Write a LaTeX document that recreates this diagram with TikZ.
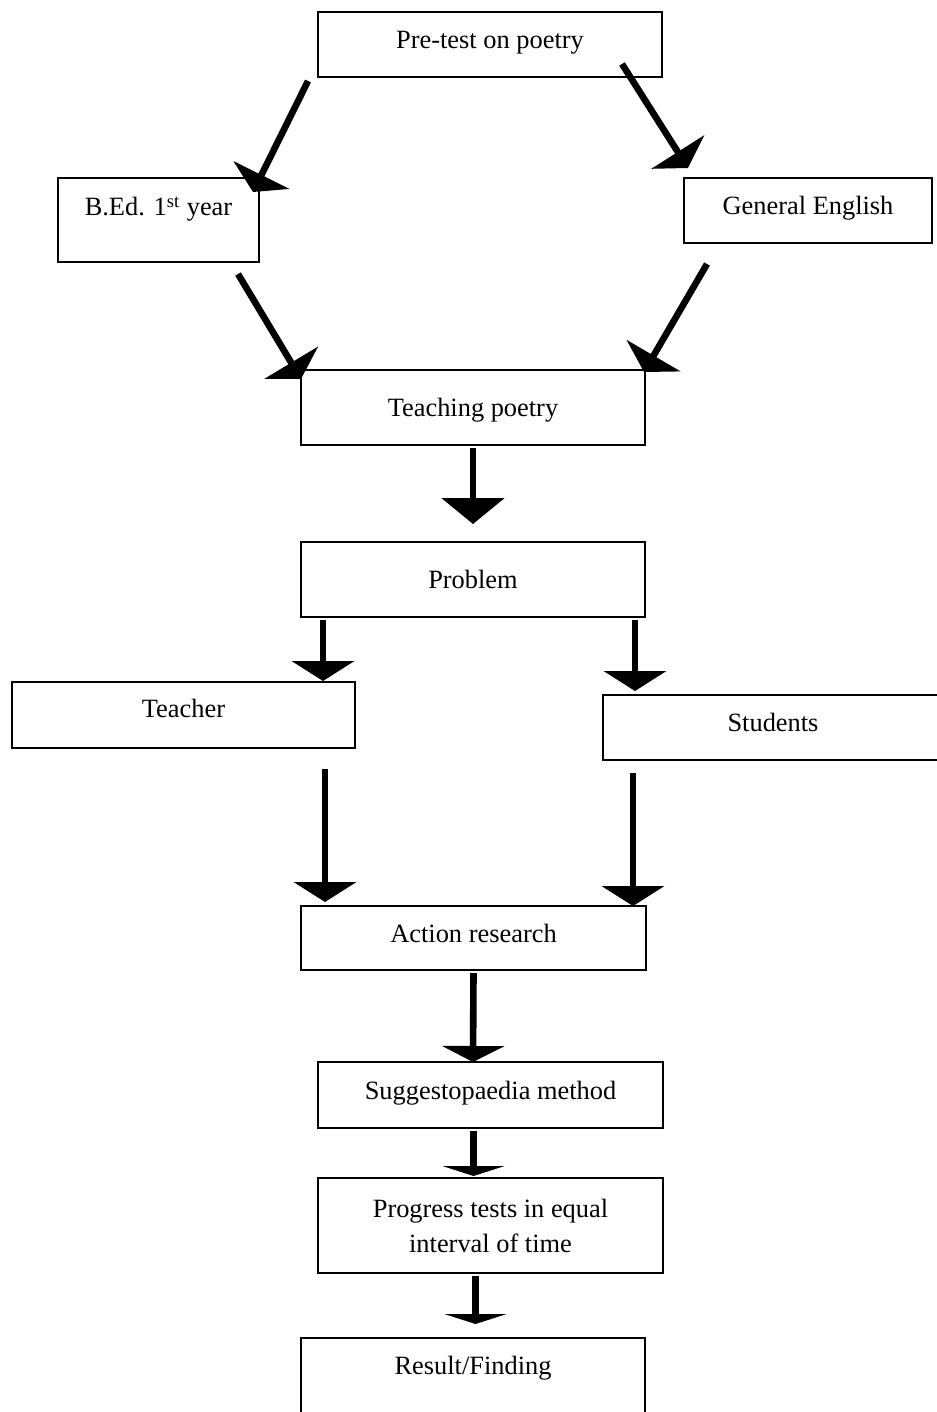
\documentclass[tikz,border=0pt]{standalone}
\usepackage{fontspec}
\setmainfont{Liberation Serif}
\usetikzlibrary{arrows.meta}

\begin{document}
\begin{tikzpicture}[
                    % GLOBAL CFG
                    x=0.5pt, y=-0.5pt,
                    font=\fontsize{13.2}{17.5}\selectfont,
                    % Styles
                    stage/.style={% For the boxes
                            rectangle,
                            draw,
                            line width=1pt,
                            inner sep=2pt,
                            align=center,
                        },
                    txtup/.style={% Push the text up in its box
                            text height=9pt,
                            text depth=#1,
                        },
                    fatarrow/.style={% Heavy arrows
                            line width=3.3pt,
                            -{Triangle[width=31pt, length=#1]},
                        },
                    fatarrow/.default=10pt,
                ]

                \useasboundingbox (0,0) rectangle (936,1412);

                % Draw the boxes
                \node [stage, txtup=5pt, minimum width=172pt, minimum height=32.5pt] (pretest) at (490,44.5) {Pre-test on poetry};
                \node [stage, txtup=13pt, minimum width=100.5pt, minimum height=42pt] (bed) at (158.5,220) {B.Ed. 1\textsuperscript{st} year};
                \node [stage, txtup=5.5pt, minimum width=124pt, minimum height=32.5pt] (geneng) at (808,210.5) {General English};
                \node [stage, txtup=0pt, minimum width=172pt, minimum height=37.5pt] (teaching) at (473,407.5) {Teaching poetry};
                \node [stage, txtup=0pt, minimum width=172pt, minimum height=37.5pt] (problem) at (473,579.5) {Problem};
                \node [stage, txtup=7pt, minimum width=171.5pt, minimum height=33pt] (teacher) at (183.5,715) {Teacher};
                \node [stage, txtup=5.5pt, minimum width=170pt, minimum height=32.5pt] (students) at (773,727.5) {Students};
                \node [stage, txtup=5pt, minimum width=172.5pt, minimum height=32pt] (action) at (473.5,938) {Action research};
                \node [stage, txtup=5pt, minimum width=172.5pt, minimum height=33pt] (suggest) at (490.5,1095) {Suggestopaedia method};
                \node [stage, minimum width=172.5pt, minimum height=47.5pt] (progress) at (490.5,1225.5) {Progress tests in equal\\interval of time};
                \node [stage, txtup=14pt, minimum width=172pt, minimum height=41pt] (result) at (473,1379) {Result/Finding};

                % Drawing arrows
                \draw [fatarrow=9.5pt] ([shift={(-9,3)}]pretest.south west) -- ([shift={(-7,15)}]bed.north east);
                \draw [fatarrow=9.5pt] ([shift={(-41,-14)}]pretest.south east) -- ([shift={(5,-9)}]geneng.north west);
                \draw [fatarrow=9.5pt] ([shift={(-22,11)}]bed.south east) -- ([shift={(1,10)}]teaching.north west);
                \draw [fatarrow=9.5pt] ([shift={(24,20)}]geneng.south west) -- ([shift={(-2,3)}]teaching.north east);
                \draw [fatarrow=13pt] ([shift={(0,2)}]teaching.south) -- ([shift={(0,-17)}]problem.north);

                % Split to teacher and students
                \draw [fatarrow] ([shift={(23,2)}]problem.south west) coordinate (p1) -- (p1 |- teacher.north);
                \draw [fatarrow] ([shift={(-11,2)}]problem.south east) coordinate (p2) -- ([shift={(0,-3)}]p2 |- students.north);
                \draw [fatarrow] ([shift={(-31,20)}]teacher.south east) coordinate (t1) -- ([shift={(0,-3)}]t1 |- action.north);
                \draw [fatarrow] ([shift={(31,12)}]students.south west) coordinate (s1) -- ([shift={(0,1)}]s1 |- action.north);

                % Down to the result
                \draw [fatarrow=8pt] ([shift={(0,2)}]action.south) -- ([shift={(-0.5,1)}]suggest.north -| action.south);
                \draw [fatarrow=5pt] ([shift={(-17,2)}]suggest.south) coordinate (g1) -- ([shift={(0,-1)}]g1 |- progress.north);
                \draw [fatarrow=5pt] ([shift={(-15,2)}]progress.south) coordinate (g2) -- ([shift={(0,-13)}]g2 |- result.north);

            \end{tikzpicture}
\end{document}
